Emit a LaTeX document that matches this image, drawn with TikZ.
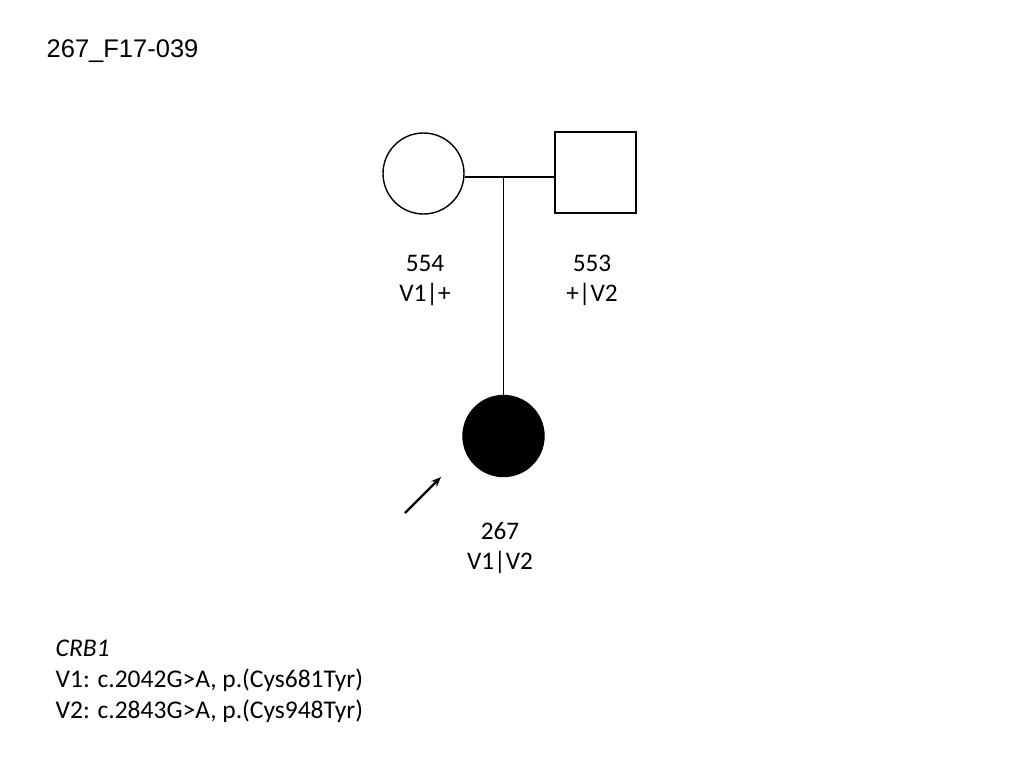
\documentclass[tikz,border=0pt]{standalone}
\usepackage{fontspec}
\setmainfont{Carlito}
\newfontfamily\titlefont{Liberation Sans}
\usetikzlibrary{arrows.meta}
\begin{document}
\begin{tikzpicture}[x=1pt,y=-1pt,line width=1.4pt,
    female/.style={draw,circle,minimum size=81pt,inner sep=0pt},
    male/.style={draw,rectangle,minimum size=81pt,inner sep=0pt},
    affected/.style={fill=black},
    lbl/.style={align=center,font=\fontsize{25.3}{30}\selectfont,inner sep=0pt}]
    \useasboundingbox (0,0) rectangle (1024,768);
    \node[anchor=west,font=\titlefont\fontsize{25.5}{28}\selectfont,inner sep=0pt] (title) at (46,51) {267\_F17-039};
    \node[female] (mother) at (423.5,173.5) {};
    \node[male] (father) at (595.5,172.5) {};
    \node[female,affected] (child) at (503.5,436) {};
    \coordinate (mid) at (503.5,177);
    \draw (mother.east |- mid) -- (father.west |- mid);
    \draw (mid) -- (child.north);
    \node[lbl] (motherlbl) at (425,280) {554\\V1|+};
    \node[lbl] (fatherlbl) at (592,280) {553\\+|V2};
    \node[lbl] (childlbl) at (500,548) {267\\V1|V2};
    \coordinate (arrowtail) at (405,513);
    \coordinate (arrowhead) at (441,477);
    \draw[-{Stealth[length=10pt,width=8pt]},line width=2.2pt] (arrowtail) -- (arrowhead);
    \node[anchor=north west,align=left,font=\fontsize{25.5}{31}\selectfont,inner sep=0pt] (legend) at (55,639)
      {\textit{CRB1}\\V1: c.2042G>A, p.(Cys681Tyr)\\V2: c.2843G>A, p.(Cys948Tyr)};
\end{tikzpicture}
\end{document}
